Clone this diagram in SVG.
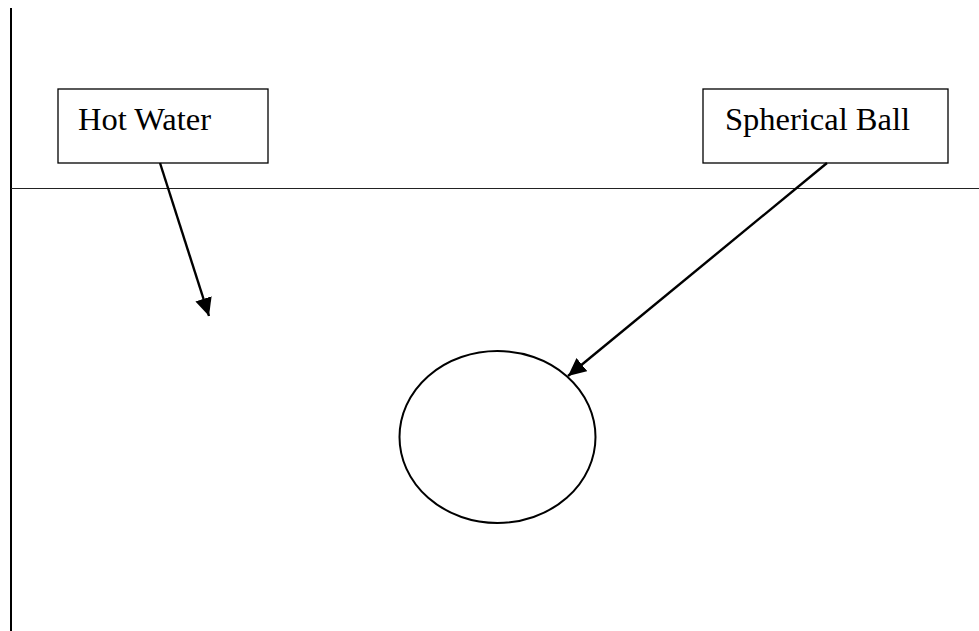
<svg xmlns="http://www.w3.org/2000/svg" width="979" height="631" viewBox="0 0 979 631">
  <style>
    .box { fill: #fff; stroke: #000; stroke-width: 1.3; }
    .label { font-family: "Liberation Serif", "Times New Roman", serif; font-size: 32.5px; fill: #000; }
    .conn { stroke: #000; stroke-width: 2.4; fill: none; marker-end: url(#head); }
  </style>
  <defs>
    <marker id="head" markerUnits="userSpaceOnUse" markerWidth="20" markerHeight="18" refX="18" refY="8.5" orient="auto">
      <path d="M0,0 L18,8.5 L0,17 Z" fill="#000"/>
    </marker>
  </defs>
  <rect width="979" height="631" fill="#fff"/>

  <!-- container wall and water surface -->
  <g id="container">
    <line x1="11" y1="8" x2="11" y2="631" stroke="#000" stroke-width="2"/>
    <line x1="11" y1="188.5" x2="979" y2="188.5" stroke="#222" stroke-width="1.2"/>
  </g>

  <g id="hot-water">
    <rect class="box" x="58" y="89" width="210" height="74"/>
    <text class="label" x="78" y="130">Hot Water</text>
  </g>

  <g id="spherical-ball-label">
    <rect class="box" x="703" y="89" width="245" height="74"/>
    <text class="label" x="725" y="130">Spherical Ball</text>
  </g>

  <g id="ball">
    <ellipse cx="497.5" cy="437" rx="98" ry="86" fill="none" stroke="#000" stroke-width="2"/>
  </g>

  <g id="connectors">
    <line class="conn" x1="160" y1="163" x2="209" y2="316"/>
    <line class="conn" x1="827" y1="163" x2="568" y2="376"/>
  </g>
</svg>
